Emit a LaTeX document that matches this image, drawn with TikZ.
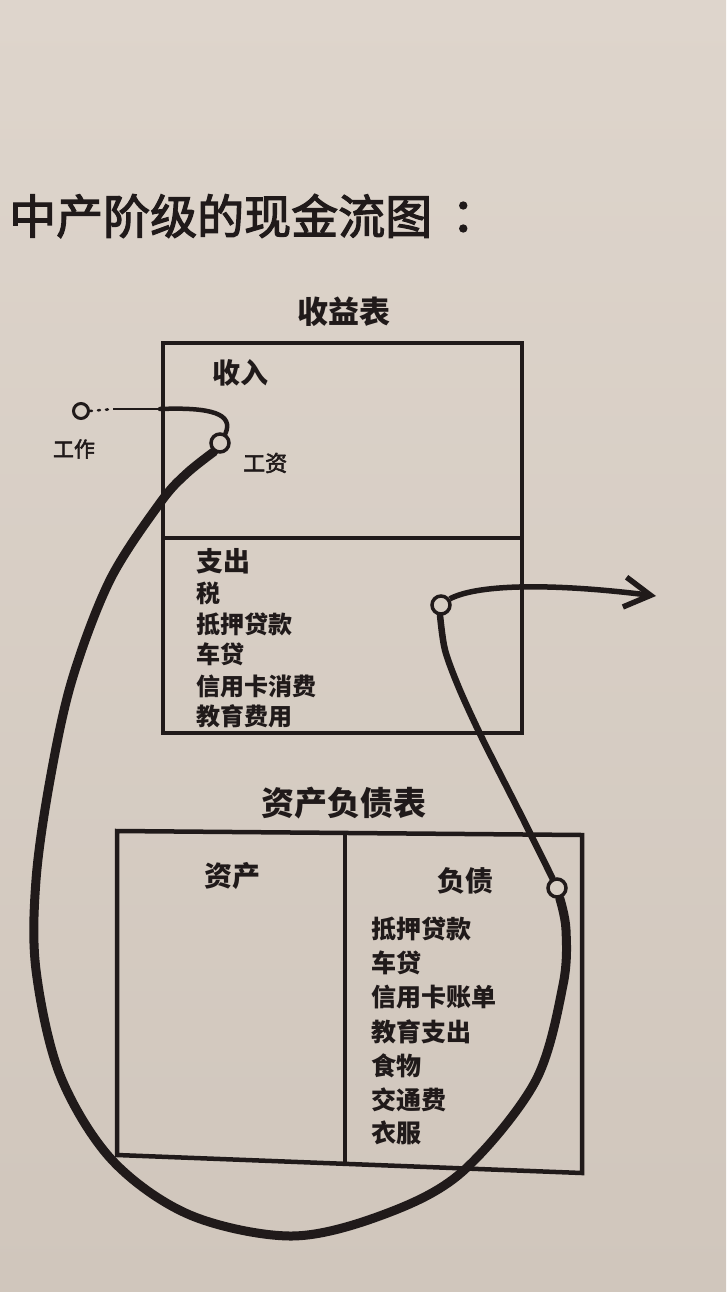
\documentclass[tikz,border=0pt]{standalone}
\usepackage{fontspec}
\newfontfamily\cjk{Noto Sans CJK SC}
\newfontfamily\cjkm[FakeBold=2.5]{Noto Sans CJK SC}
\usetikzlibrary{arrows.meta}
\definecolor{papertop}{RGB}{222,213,204}
\definecolor{paperbot}{RGB}{208,198,188}
\definecolor{paper}{RGB}{215,206,196}
\definecolor{ink}{RGB}{32,26,26}
\pgfdeclarelayer{back}
\pgfdeclarelayer{lines}
\pgfsetlayers{back,lines,main}
\begin{document}
\begin{tikzpicture}[x=1pt,y=-1pt,
  txt/.style={text=ink, inner sep=0pt},
  lft/.style={txt, anchor=west},
  boxline/.style={draw=ink, line width=4.5pt, line join=miter},
  ring/.style={circle, draw=ink, fill=paper, line width=3.5pt, minimum size=18pt, inner sep=0pt},
  smallring/.style={ring, line width=3pt, minimum size=15pt},
  flow/.style={draw=ink, line width=9pt, line cap=round, line join=round},
  item/.style={lft, font=\cjk\bfseries\fontsize{24}{24}\selectfont},
  bitem/.style={lft, font=\cjk\bfseries\fontsize{25}{25}\selectfont}
]
\begin{pgfonlayer}{back}
\shade[top color=papertop, bottom color=paperbot] (0,0) rectangle (726,1292);
\end{pgfonlayer}
\useasboundingbox (0,0) rectangle (726,1292);

% title
\node[lft, font=\cjkm\fontsize{47}{47}\selectfont] (title) at (9,216) {中产阶级的现金流图};
\node[txt, font=\cjkm\fontsize{47}{47}\selectfont] (colon) at (475,217) {：};

% income statement
\node[txt, font=\cjk\bfseries\fontsize{31}{31}\selectfont] (istitle) at (344,312) {收益表};
\draw[boxline] (163,343) rectangle (522,733);
\draw[boxline] (163,538) -- (522,538);
\node[lft, font=\cjk\bfseries\fontsize{28}{28}\selectfont] (income) at (212,373) {收入};
\node[lft, font=\cjk\bfseries\fontsize{27}{27}\selectfont] (expense) at (196,561) {支出};
\node[item] (e1) at (196,593) {税};
\node[item] (e2) at (196,624) {抵押贷款};
\node[item] (e3) at (196,654) {车贷};
\node[item] (e4) at (196,686) {信用卡消费};
\node[item] (e5) at (196,716) {教育费用};

% balance sheet
\node[txt, font=\cjk\bfseries\fontsize{33}{33}\selectfont] (bstitle) at (344,803) {资产负债表};
\draw[boxline] (117,831) -- (582,835) -- (582,1173) -- (117,1155) -- cycle;
\draw[boxline] (345,833) -- (345,1166);
\node[txt, font=\cjk\bfseries\fontsize{28}{28}\selectfont] (assets) at (232,876) {资产};
\node[txt, font=\cjk\bfseries\fontsize{28}{28}\selectfont] (liab) at (465,881) {负债};
\node[bitem] (l1) at (371,929) {抵押贷款};
\node[bitem] (l2) at (371,963) {车贷};
\node[bitem] (l3) at (371,997) {信用卡账单};
\node[bitem] (l4) at (371,1032) {教育支出};
\node[bitem] (l5) at (371,1066) {食物};
\node[bitem] (l6) at (371,1100) {交通费};
\node[bitem] (l7) at (371,1133) {衣服};

% circles and their labels
\node[smallring] (work) at (81,411) {};
\node[txt, font=\cjkm\fontsize{21}{21}\selectfont] (worklbl) at (74,449) {工作};
\node[ring] (wage) at (220,443) {};
\node[lft, font=\cjkm\fontsize{22}{22}\selectfont] (wagelbl) at (243,463) {工资};
\node[ring] (c3) at (441,605) {};
\node[ring] (c4) at (557,888) {};
\coordinate (d1) at (113,409);
\coordinate (d2) at (160,409);
\coordinate (tip) at (656,596);

\begin{pgfonlayer}{lines}
% work -> wage
\draw[ink, line width=2.5pt, dash pattern=on 2pt off 6pt, line cap=round] (work.east) -- (d1);
\draw[ink, line width=2pt] (d1) -- (d2);
\draw[ink, line width=4.5pt, line cap=round] (d2) .. controls (212,407) and (234,414) .. (wage.60);
% big loop: wage -> balance sheet liabilities
\draw[flow] plot[smooth, tension=0.55] coordinates {
  (wage.235) (186,474) (160,503) (110,580) (72,680) (50,780) (36,880)
  (36,970) (60,1075) (112,1160) (190,1215) (292,1236)
  (385,1214) (462,1172) (535,1082) (563,985) (566,930) (c4.285)};
% liabilities -> expenses
\draw[ink, line width=6.5pt, line cap=round] plot[smooth, tension=0.5] coordinates {
  (c4.115) (520,813) (482,738) (459,688) (445,650) (c3.265)};
% expenses -> out
\draw[ink, line width=5.5pt, -{Straight Barb[length=26pt, width=30pt, line width=5.5pt]}]
  (c3.35) .. controls (480,583) and (560,584) .. (tip);
\end{pgfonlayer}
\end{tikzpicture}
\end{document}
